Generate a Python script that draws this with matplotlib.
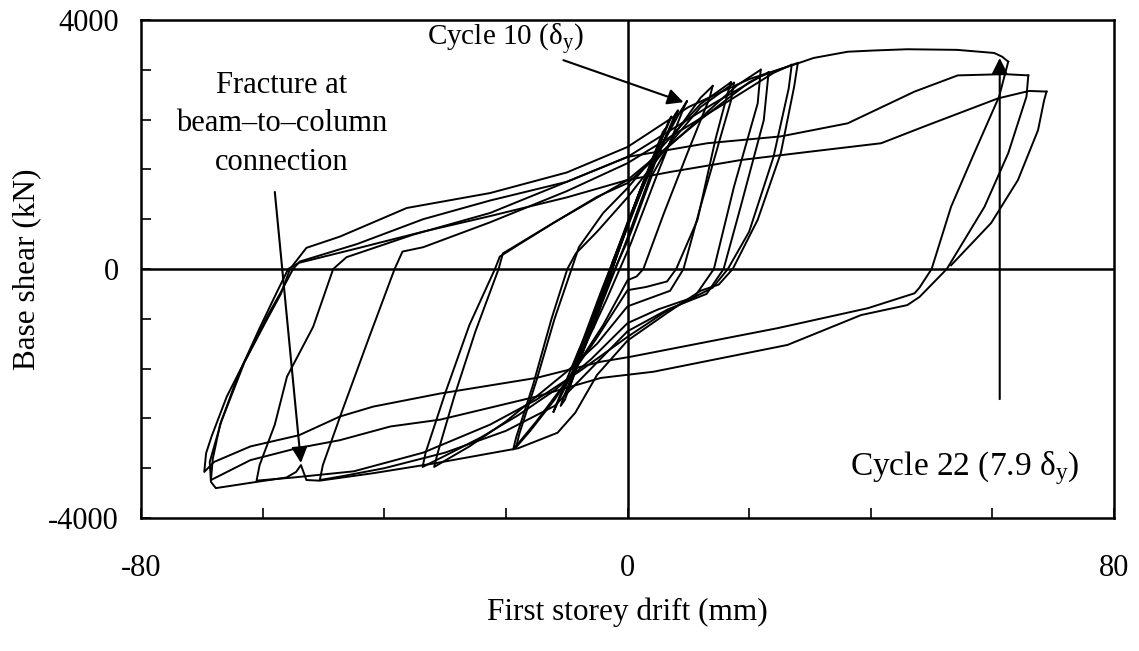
import matplotlib.pyplot as plt
import numpy as np

# Base shear vs first storey drift, cyclic test (drift in mm, shear in kN)

# elastic cycles (1-9)
el1_x = [-2.5, 0.0, 2.5, 3.2, 2.8, 0.5, -2.0, -5.0, -6.0, -5.6, -2.5]
el1_f = [0, 700, 1300, 1500, 1450, 850, 150, -700, -1000, -950, 0]
el2_x = [-2.0, 1.5, 4.5, 6.2, 5.8, 3.0, -0.5, -4.5, -8.5, -9.2, -8.6, -5.0, -2.0]
el2_f = [200, 1100, 1850, 2250, 2200, 1500, 600, -400, -1450, -1700, -1650, -700, 200]
el3_x = [-3.0, 0.5, 4.0, 7.5, 8.3, 7.8, 4.5, 0.0, -4.0, -8.0, -10.5, -11.0, -10.3, -6.5, -3.0]
el3_f = [-100, 800, 1700, 2350, 2550, 2480, 1700, 500, -500, -1500, -2050, -2200, -2100, -1100, -100]
el4_x = [-1.5, 2.0, 5.5, 7.2, 6.8, 3.5, 0.0, -4.0, -7.5, -10.0, -9.5, -6.0, -1.5]
el4_f = [300, 1250, 2050, 2450, 2380, 1600, 750, -300, -1250, -1950, -1900, -900, 300]

# cycle 10 (yield) and following inelastic cycles
c10_x = [-2.5, 2.0, 6.0, 8.5, 9.8, 9.3, 5.0, 0.5, -3.5, -8.0, -11.0, -12.2, -11.6, -8.0, -4.0, -2.1, 0.0, 0.8, 4.0, 8.0, 12.0, 14.0]
c10_f = [100, 1200, 2050, 2500, 2700, 2600, 1550, 400, -500, -1450, -2050, -2300, -2150, -1300, -450, 0, 450, 650, 1500, 2200, 2750, 2940]

c11_x = [14.0, 13.5, 10.0, 6.0, 2.6, 1.5, 0.0, -4.0, -8.0, -12.0, -16.0, -18.3, -17.8, -15.0, -12.0, -9.2, -8.0, -4.0, 0.0, 6.0, 12.0, 17.0]
c11_f = [2940, 2750, 1900, 900, 0, -120, -180, -900, -1500, -2100, -2600, -2860, -2650, -1800, -800, 0, 350, 900, 1300, 2000, 2650, 3000]

c12_x = [17.0, 16.4, 14.5, 11.5, 8.0, 6.5, 3.0, 0.0, -5.0, -10.0, -15.0, -18.8, -18.3, -15.5, -12.5, -9.9, -8.5, -5.0, 0.0, 6.0, 12.0, 17.5]
c12_f = [3000, 2800, 2100, 790, 0, -200, -290, -340, -1100, -1800, -2450, -2900, -2700, -1850, -800, 0, 250, 600, 1150, 1900, 2600, 2990]

c13_x = [17.5, 17.0, 12.0, 9.2, 7.0, 0.0, -5.0, -10.0, -15.0, -20.0, -26.0, -31.8, -31.2, -28.5, -25.0, -21.2, -20.5, -12.2, -5.0, 0.0, 10.0, 18.0, 21.9]
c13_f = [2990, 2700, 1000, 0, -350, -600, -1200, -1650, -2050, -2450, -2850, -3180, -2950, -2050, -1000, 0, 250, 740, 1160, 1380, 2250, 2950, 3200]

c14_x = [21.9, 21.4, 17.5, 14.2, 11.0, 5.0, 0.0, -6.0, -12.0, -18.0, -24.0, -30.0, -33.7, -33.2, -30.0, -26.0, -21.8, -21.0, -17.6, -12.0, 0.0, 12.0, 20.0, 23.2]
c14_f = [3200, 2660, 1320, 0, -450, -650, -870, -1450, -1950, -2350, -2700, -3000, -3180, -2950, -2000, -900, 0, 200, 410, 750, 1430, 2400, 3000, 3160]

c15_x = [23.2, 22.4, 18.6, 15.8, 13.0, 6.6, 0.0, -8.0, -12.0, -20.0, -30.0, -40.0, -47.0, -50.6, -50.1, -47.0, -42.5, -38.3, -37.0, -33.6, -22.6, -10.0, 0.0, 15.0, 24.0, 27.0]
c15_f = [3160, 2390, 1000, 0, -400, -650, -1000, -1800, -2200, -2600, -2950, -3200, -3330, -3390, -3150, -2300, -1100, 0, 280, 350, 750, 1250, 1700, 2600, 3150, 3280]

c16_x = [27.0, 26.5, 24.0, 20.0, 16.5, 14.0, 6.0, 0.0, -8.0, -15.0, -22.6, -33.6, -45.0, -55.0, -61.0, -60.5, -58.0, -56.0, -51.7, -48.4, -46.2, -35.3, -22.6, -10.0, 0.0, 14.0, 22.0, 28.0]
c16_f = [3280, 2900, 1800, 600, 0, -300, -700, -1090, -1650, -2100, -2500, -2950, -3250, -3350, -3400, -3150, -2500, -1730, -930, 0, 190, 550, 900, 1400, 1800, 2650, 3100, 3310]

# cycle with the connection fracture on the negative side
c17_x = [28.0, 27.4, 25.2, 21.4, 17.3, 15.0, 12.0, 6.6, 0.0, -5.0, -8.6, -11.5, -18.0, -31.6, -41.8, -50.6, -52.8, -53.7, -54.5, -56.1, -61.0, -67.7, -68.5, -68.7, -66.8, -63.0, -59.5, -57.0, -55.5, -52.8, -47.3, -36.3, -22.6, -10.0, 0.0, 10.0, 20.0, 27.9, 30.6, 36.2, 40.5, 46.0, 54.2, 60.3, 61.6, 62.6]
c17_f = [3310, 2930, 1860, 790, 0, -250, -350, -700, -1150, -1700, -2310, -2630, -2880, -3120, -3280, -3400, -3390, -3150, -3260, -3350, -3420, -3520, -3420, -3100, -2450, -1500, -850, -400, 0, 340, 520, 980, 1220, 1550, 1960, 2600, 3050, 3300, 3390, 3490, 3510, 3530, 3520, 3470, 3410, 3330]

c18_x = [62.6, 61.1, 57.0, 53.2, 50.0, 48.0, 47.2, 39.5, 24.7, 0.5, -4.4, -15.0, -30.8, -41.8, -47.3, -54.0, -62.0, -68.0, -69.6, -69.3, -68.4, -65.9, -62.0, -59.3, -57.1, -55.0, -53.9, -44.5, -33.6, -22.6, -10.0, 0.0, 13.1, 25.2, 36.2, 47.2, 54.3, 62.0, 65.9]
c18_f = [3330, 2770, 1860, 1000, 0, -300, -390, -630, -950, -1410, -1490, -1750, -2000, -2210, -2370, -2670, -2850, -3100, -3260, -2960, -2690, -2050, -1300, -770, -390, 0, 120, 400, 800, 1100, 1400, 1800, 2020, 2130, 2340, 2850, 3110, 3130, 3110]

c19_x = [65.9, 65.6, 62.6, 58.7, 52.5, 48.0, 46.0, 38.4, 26.3, 4.3, -4.4, -15.0, -30.8, -39.0, -47.3, -54.4, -62.0, -68.5, -68.2, -67.0, -64.0, -60.5, -57.8, -55.8, -54.0, -44.5, -33.6, -22.6, -10.0, 0.0, 7.1, 18.6, 29.6, 41.7, 48.8, 60.9, 66.0, 68.9]
c19_f = [3110, 2770, 1860, 1000, 0, -450, -580, -740, -1220, -1650, -1750, -2050, -2420, -2530, -2750, -2880, -3070, -3390, -3050, -2500, -1700, -950, -400, 0, 100, 330, 600, 850, 1150, 1430, 1560, 1750, 1880, 2020, 2290, 2740, 2860, 2850]

# last half cycle (cycle 22 unloading)
c20_x = [68.9, 68.5, 67.5, 64.2, 59.8, 53.2]
c20_f = [2850, 2710, 2230, 1430, 740, 60]

loops = [(el1_x, el1_f), (el2_x, el2_f), (el3_x, el3_f), (el4_x, el4_f),
         (c10_x, c10_f), (c11_x, c11_f), (c12_x, c12_f), (c13_x, c13_f),
         (c14_x, c14_f), (c15_x, c15_f), (c16_x, c16_f), (c17_x, c17_f),
         (c18_x, c18_f), (c19_x, c19_f), (c20_x, c20_f)]

x_ticks = [-80, -60, -40, -20, 0, 20, 40, 60, 80]
x_tick_labels = ["-80", "", "", "", "0", "", "", "", "80"]
y_ticks = [-4000, -3200, -2400, -1600, -800, 0, 800, 1600, 2400, 3200, 4000]
y_tick_labels = ["-4000", "", "", "", "", "0", "", "", "", "", "4000"]

plt.rcParams["font.family"] = ["Liberation Serif", "DejaVu Serif"]
plt.rcParams["mathtext.fontset"] = "custom"
plt.rcParams["mathtext.rm"] = "Liberation Serif"
plt.rcParams["mathtext.it"] = "Liberation Serif:italic"

FS = 22

fig = plt.figure(figsize=(11.39, 6.51), dpi=100)
ax = fig.add_axes([0.1238, 0.2043, 0.8543, 0.7650])

for xs, fs in loops:
    ax.plot(xs, fs, color="black", lw=1.4, solid_joinstyle="round")

ax.axhline(0, color="black", lw=1.8)
ax.axvline(0, color="black", lw=1.8)

ax.set_xlim(-80, 80)
ax.set_ylim(-4000, 4000)
ax.set_xticks(x_ticks)
ax.set_xticklabels(x_tick_labels)
ax.set_yticks(y_ticks)
ax.set_yticklabels(y_tick_labels)
ax.tick_params(axis="both", direction="in", length=7, width=1.2, labelsize=FS)
ax.tick_params(axis="x", pad=26)
ax.tick_params(axis="y", pad=16)
for s in ax.spines.values():
    s.set_linewidth(1.8)

ax.set_xlabel("First storey drift (mm)", fontsize=FS + 0.5)
ax.xaxis.label.set_va("center")
ax.xaxis.set_label_coords(0.5, -0.19)
ax.set_ylabel("Base shear (kN)", fontsize=FS + 0.5)
ax.yaxis.label.set_va("center")
ax.yaxis.set_label_coords(-0.117, 0.5)

arrow = dict(arrowstyle="-|>", color="black", lw=1.5, mutation_scale=24, shrinkA=0, shrinkB=0)

ax.annotate(r"Cycle 10 ($\mathrm{\delta_y}$)", xy=(9.2, 2680), xytext=(-7.2, 3680),
            ha="right", va="center", fontsize=FS - 1, arrowprops=arrow)
ax.annotate(r"Cycle 22 (7.9 $\mathrm{\delta_y}$)", xy=(61.2, 3390), xytext=(55.4, -3196),
            ha="center", va="center", fontsize=FS + 2)
ax.annotate("", xy=(61.2, 3390), xytext=(61.2, -2090), arrowprops=arrow)
ax.annotate("Fracture at\nbeam\u2013to\u2013column\nconnection", xy=(-53.7, -3116),
            xytext=(-56.9, 2330), ha="center", va="center", fontsize=FS,
            linespacing=1.45, multialignment="center")
ax.annotate("", xy=(-53.7, -3116), xytext=(-58.0, 1237), arrowprops=arrow)

fig.savefig("out.png", dpi=100)
